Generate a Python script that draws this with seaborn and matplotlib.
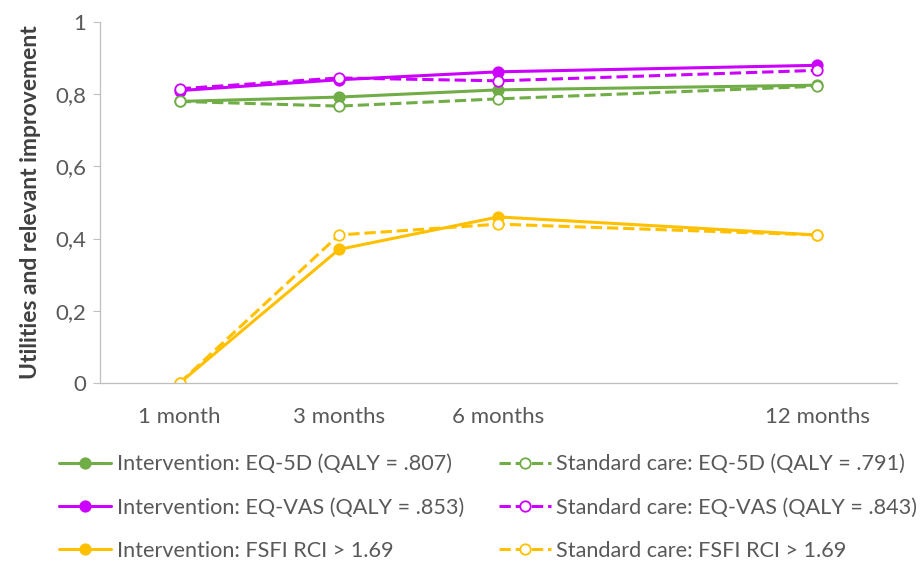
import pandas as pd
import matplotlib
matplotlib.use("Agg")
import matplotlib.pyplot as plt
import seaborn as sns

# time points (9 months is an empty category slot on the axis)
categories = ["1 month", "3 months", "6 months", "9 months", "12 months"]
time_points = ["1 month", "3 months", "6 months", "12 months"]

int_eq5d = [0.780, 0.792, 0.812, 0.825]
std_eq5d = [0.780, 0.767, 0.787, 0.822]
int_eqvas = [0.810, 0.840, 0.862, 0.880]
std_eqvas = [0.815, 0.845, 0.837, 0.866]
int_fsfi = [0.0, 0.370, 0.460, 0.410]
std_fsfi = [0.0, 0.410, 0.440, 0.410]

# ordered column by column for the two-column legend
series = [
    ("Intervention: EQ-5D (QALY = .807)", int_eq5d, "#70AD47", "-", True),
    ("Intervention: EQ-VAS (QALY = .853)", int_eqvas, "#CC00FF", "-", True),
    ("Intervention: FSFI RCI > 1.69", int_fsfi, "#FFC000", "-", True),
    ("Standard care: EQ-5D (QALY = .791)", std_eq5d, "#70AD47", "--", False),
    ("Standard care: EQ-VAS (QALY = .843)", std_eqvas, "#CC00FF", "--", False),
    ("Standard care: FSFI RCI > 1.69", std_fsfi, "#FFC000", "--", False),
]

sns.set_theme(style="white")
plt.rcParams["font.family"] = ["Lato", "DejaVu Sans"]

fig = plt.figure(figsize=(9.21, 5.64), dpi=100)
ax = fig.add_axes([0.1086, 0.321, 0.865, 0.640])

pos = {c: i for i, c in enumerate(categories)}
for label, vals, color, ls, filled in series:
    df = pd.DataFrame({"x": [pos[t] for t in time_points], "y": vals})
    sns.lineplot(data=df, x="x", y="y", ax=ax, color=color, linestyle=ls,
                 linewidth=2.2, marker="o", markersize=7.5,
                 markerfacecolor=color if filled else "white",
                 markeredgecolor=color, markeredgewidth=1.3, label=label)

ax.set_xlim(-0.5, len(categories) - 0.5)
ax.set_ylim(0, 1)
ax.set_xticks([pos[t] for t in time_points])
ax.set_xticklabels(time_points)
ax.set_yticks([0, 0.2, 0.4, 0.6, 0.8, 1.0])
ax.set_yticklabels(["0", "0,2", "0,4", "0,6", "0,8", "1"])
ax.tick_params(axis="x", length=0, labelsize=16, colors="#595959", pad=17)
ax.tick_params(axis="y", length=5, width=0.8, color="#BFBFBF", direction="out",
               left=True, labelsize=16, labelcolor="#595959", pad=5)
ax.set_xlabel("")
ax.set_ylabel("Utilities and relevant improvement", fontsize=16.5,
              fontweight="bold", color="#404040", labelpad=10)

for side in ["top", "right"]:
    ax.spines[side].set_visible(False)
for side in ["left", "bottom"]:
    ax.spines[side].set_color("#BFBFBF")
    ax.spines[side].set_linewidth(0.9)

handles, labels = ax.get_legend_handles_labels()
ax.get_legend().remove()
fig.legend(handles, labels, ncol=2, loc="center", bbox_to_anchor=(0.530, 0.10),
           frameon=False, fontsize=15.6, labelcolor="#595959", handlelength=2.4,
           handletextpad=0.25, columnspacing=1.6, labelspacing=1.08)

fig.savefig("out.png", dpi=100)
